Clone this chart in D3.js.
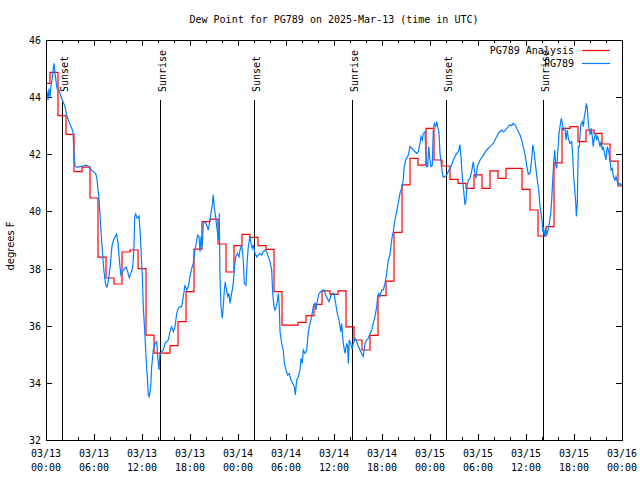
<!DOCTYPE html>
<html><head><meta charset="utf-8">
<script src="https://cdn.jsdelivr.net/npm/d3@7"></script>
<style>body{margin:0;background:#fff}svg{display:block}</style>
</head><body><svg id="c" width="640" height="480"></svg>
<script>
const chartTitle = "Dew Point for PG789 on 2025-Mar-13 (time in UTC)";
const yAxisLabel = "degrees F";
const startUTC = Date.UTC(2025, 2, 13, 0, 0);
const yTicks = [32, 34, 36, 38, 40, 42, 44, 46];
const seriesNames = ["PG789 Analysis", "PG789"];
const seriesColors = ["#ff0000", "#0080ff"];

// Analysis: hourly values (hours since 03/13 00:00 UTC)
const analysisHours = [0,1,2,3,4,5,6,7,8,9,10,11,12,13,14,15,16,17,18,19,20,21,22,23,24,
  25,26,27,28,29,30,31,32,33,34,35,36,37,38,39,40,41,42,43,44,45,46,47,48,
  49,50,51,52,53,54,55,56,57,58,59,60,61,62,63,64,65,66,67,68,69,70,71,72];
const analysisDew = [44.48,44.87,43.35,42.70,41.39,41.55,40.47,38.40,37.67,37.46,38.58,38.65,38.00,
  35.67,35.04,35.04,35.30,36.14,37.19,38.68,39.64,39.73,38.86,37.88,38.80,
  39.20,39.09,38.80,38.67,37.19,36.02,36.02,36.12,36.35,36.75,37.22,37.10,37.22,35.96,
  35.50,35.15,35.66,37.05,37.56,39.27,40.93,41.86,41.62,42.91,
  41.80,41.59,41.12,40.98,40.81,41.28,40.81,41.42,41.16,41.51,41.51,40.77,40.05,39.14,
  39.47,41.70,42.91,42.97,42.44,42.85,42.73,42.36,41.76,40.89];

// Observations: [hours since 03/13 00:00 UTC, dew point F]
const obsDay1 = [[0,43.84],[0.125,44.2],[0.25,43.9],[0.375,44.3],[0.5,44.0],[0.625,44.4],[0.75,44.6],[0.875,44.9],[1.0,45.18],[1.125,44.83],[1.375,44.31],[1.625,44.25],[1.875,44.02],[2.125,43.84],[2.375,43.67],[2.625,43.32],[2.875,43.14],[3.125,42.97],[3.375,42.79],[3.5,42.03],[3.625,41.59],[3.875,41.54],[4.25,41.57],[4.625,41.59],[5.0,41.62],[5.375,41.57],[5.625,41.47],[5.875,41.4],[6.125,41.35],[6.25,41.3],[6.375,41.1],[6.5,40.8],[6.625,40.4],[6.75,39.9],[6.875,39.3],[7.0,38.8],[7.125,38.3],[7.25,37.9],[7.375,37.6],[7.5,37.4],[7.625,37.35],[7.75,37.5],[8.0,38.0],[8.25,38.8],[8.44,39.0],[8.625,39.1],[8.84,39.2],[9.0,38.9],[9.125,38.47],[9.25,38.06],[9.375,37.77],[9.66,37.95],[10.0,38.06],[10.21,37.89],[10.41,37.68],[10.625,37.84],[10.84,38.06],[11.0,38.77],[11.09,39.82],[11.21,39.91],[11.41,39.76],[11.625,39.84],[11.75,39.35],[11.875,38.65],[12.04,37.72],[12.16,36.67],[12.375,35.62],[12.5,34.92],[12.66,34.22],[12.79,33.58],[12.91,33.52],[13.09,33.87],[13.21,34.57],[13.41,35.15],[13.625,35.38],[13.84,35.44],[13.96,34.92],[14.125,34.45],[14.25,35.03],[14.46,35.09],[14.66,35.15],[14.875,35.38],[15.09,35.44],[15.29,35.5],[15.5,35.79],[15.71,35.96],[15.91,35.79],[16.125,35.96],[16.34,36.43],[16.54,36.61],[16.75,36.67],[16.96,36.67],[17.16,37.02],[17.375,37.42],[17.59,37.25],[17.79,37.37],[18.0,37.72],[18.21,38.0],[18.41,38.18],[18.625,38.65],[18.84,39.0],[18.96,39.17],[19.125,39.12],[19.25,38.59],[19.375,39.12],[19.54,38.77],[19.66,39.58],[19.875,39.64],[20.09,39.52],[20.29,39.35],[20.5,39.7],[20.625,39.93],[20.79,40.23],[20.91,40.58],[21.04,40.11],[21.21,39.82],[21.34,39.47],[21.46,39.23],[21.59,39.0],[21.66,39.93],[21.75,37.72],[21.875,36.67],[22.04,36.26],[22.16,36.67],[22.29,37.25],[22.41,37.54],[22.59,37.19],[22.71,37.02],[22.875,37.13],[23.0,36.78],[23.21,37.13],[23.41,37.48],[23.54,38.0],[23.71,38.41],[23.91,38.53]];
const obsDay2 = [[24.125,38.41],[24.25,38.65],[24.46,38.82],[24.66,38.3],[24.79,37.48],[25.0,37.42],[25.16,38.3],[25.29,38.77],[25.5,39.12],[25.625,38.88],[25.79,38.71],[25.91,38.82],[26.125,38.53],[26.34,38.41],[26.54,38.47],[26.75,38.53],[26.96,38.47],[27.16,38.59],[27.375,38.65],[27.59,38.59],[27.79,38.41],[28.0,38.24],[28.21,37.95],[28.34,37.13],[28.5,36.67],[28.625,36.55],[28.84,36.72],[29.04,37.13],[29.16,36.67],[29.25,35.79],[29.46,35.38],[29.66,35.15],[29.79,34.68],[30.0,34.45],[30.21,34.27],[30.41,34.33],[30.625,34.1],[30.84,33.98],[31.04,33.87],[31.16,33.58],[31.34,34.1],[31.54,34.22],[31.75,34.45],[31.875,34.86],[32.04,34.68],[32.16,35.15],[32.375,35.03],[32.59,35.15],[32.79,35.79],[33.0,36.08],[33.21,36.32],[33.41,36.67],[33.625,36.78],[33.75,36.55],[33.91,36.84],[34.125,37.13],[34.34,37.19],[34.54,37.25],[34.75,37.25],[34.96,37.07],[35.16,36.96],[35.375,36.84],[35.59,37.02],[35.79,37.13],[36.0,37.13],[36.21,36.78],[36.41,36.43],[36.625,36.2],[36.84,35.79],[36.96,36.08],[37.16,35.38],[37.375,35.03],[37.59,35.38],[37.71,35.27],[37.79,34.68],[37.91,35.5],[38.09,35.38],[38.25,35.21],[38.41,35.38],[38.625,35.56],[38.84,35.44],[39.04,35.27],[39.25,35.15],[39.46,35.03],[39.66,34.92],[39.875,35.38],[40.09,35.5],[40.29,35.56],[40.5,35.73],[40.71,35.85],[40.91,36.08],[41.125,36.32],[41.34,36.67],[41.46,37.02],[41.625,37.13],[41.75,37.02],[41.96,37.25],[42.16,37.25],[42.375,37.48],[42.59,37.83],[42.79,38.3],[43.0,38.5],[43.21,39.0],[43.41,39.3],[43.625,39.7],[43.84,40.0],[44.04,40.3],[44.25,40.64],[44.46,40.81],[44.66,41.1],[44.75,41.51],[44.96,41.8],[45.29,41.97],[45.5,42.27],[45.71,42.21],[45.91,42.15],[46.125,42.09],[46.34,42.03],[46.54,42.09],[46.75,42.38],[46.875,42.62],[47.04,42.5],[47.16,42.73],[47.375,42.79],[47.5,41.92],[47.59,41.57],[47.71,41.57],[47.84,42.27],[48.0,41.8]];
const obsDay3 = [[48.125,41.57],[48.29,41.62],[48.41,42.85],[48.54,43.08],[48.71,42.97],[48.84,43.14],[48.96,42.97],[49.125,42.73],[49.25,42.03],[49.375,41.74],[49.54,41.33],[49.66,41.19],[49.875,41.22],[50.09,41.28],[50.29,41.4],[50.5,41.51],[50.71,41.62],[50.91,41.8],[51.125,41.92],[51.34,42.03],[51.54,42.09],[51.75,42.33],[51.875,41.92],[52.0,41.33],[52.16,40.87],[52.375,40.23],[52.5,40.4],[52.625,40.87],[52.79,41.1],[53.0,41.16],[53.21,41.4],[53.41,41.74],[53.54,41.45],[53.75,41.16],[53.91,41.57],[54.16,41.74],[54.375,41.86],[54.59,41.92],[54.79,42.03],[55.09,42.15],[55.29,42.21],[55.5,42.27],[55.71,42.33],[55.91,42.38],[56.125,42.5],[56.34,42.62],[56.54,42.73],[56.75,42.79],[56.96,42.85],[57.16,42.79],[57.375,42.82],[57.59,42.91],[57.79,42.97],[58.0,43.03],[58.21,43.0],[58.41,43.08],[58.625,43.03],[58.84,42.91],[59.04,42.79],[59.25,42.68],[59.46,42.5],[59.66,42.27],[59.875,42.0],[60.09,41.6],[60.29,41.3],[60.5,41.35],[60.71,41.8],[60.84,42.33],[60.91,42.27],[61.04,42.0],[61.21,41.57],[61.41,41.1],[61.625,40.64],[61.75,40.17],[61.875,39.93],[62.0,39.7],[62.09,39.29],[62.16,39.47],[62.29,39.12],[62.46,39.41],[62.59,39.17],[62.75,39.35],[62.91,39.58],[63.09,39.93],[63.21,40.4],[63.34,41.1],[63.46,41.69],[63.59,42.15],[63.71,41.62],[63.84,41.51],[63.96,42.03],[64.125,42.73],[64.25,42.97],[64.41,43.26],[64.54,43.08],[64.66,42.85],[64.875,42.91],[65.0,42.5],[65.16,42.85],[65.29,42.56],[65.5,42.38],[65.71,42.44],[65.84,41.92],[65.96,41.22],[66.09,40.75],[66.21,40.34],[66.29,39.82],[66.41,40.28],[66.54,42.27],[66.66,42.27],[66.84,43.03],[67.04,43.14],[67.16,42.97],[67.29,43.32],[67.41,43.49],[67.54,43.78],[67.66,43.61],[67.79,43.08],[67.91,42.85],[68.04,42.68],[68.16,42.91],[68.29,42.62],[68.41,42.27],[68.54,42.56],[68.71,42.73],[68.84,42.5],[68.96,42.62],[69.125,42.44],[69.25,42.27],[69.375,42.44],[69.54,42.15],[69.66,42.27],[69.875,41.97],[70.0,41.8],[70.16,42.27],[70.34,42.09],[70.5,41.8],[70.625,41.45],[70.79,41.51],[70.91,41.22],[71.125,41.1],[71.25,41.22],[71.41,41.04],[71.59,40.93],[71.75,40.98],[71.875,40.93],[72.0,40.93]];

// Sun events (hours since start) and labels
const sunHours = [2.0, 14.25, 26.0, 38.23, 50.02, 62.17];
const sunLabels = ["Sunset", "Sunrise", "Sunset", "Sunrise", "Sunset", "Sunrise"];
const sunLineTopValue = 43.9;

const HOUR = 3600 * 1000;
const t = h => new Date(startUTC + h * HOUR);

const svg = d3.select("#c");
const M = {left: 46, right: 622, top: 40, bottom: 440};
const x = d3.scaleUtc().domain([t(0), t(72)]).range([M.left, M.right]);
const y = d3.scaleLinear().domain([32, 46]).range([M.bottom, M.top]);
const mono = "'DejaVu Sans Mono', monospace";

svg.append("rect").attr("width", 640).attr("height", 480).attr("fill", "#fff");

// Title
svg.append("text").attr("x", (M.left + M.right) / 2).attr("y", 23)
  .attr("text-anchor", "middle").attr("font-family", mono).attr("font-size", 10)
  .text(chartTitle);

// y axis label
svg.append("text").attr("transform", "translate(14,246) rotate(-90)")
  .attr("text-anchor", "middle").attr("font-family", "'DejaVu Sans', sans-serif").attr("font-size", 10)
  .text(yAxisLabel);

const minorTimes = d3.utcHour.every(2).range(t(0), t(72.01));
const majorTimes = d3.utcHour.every(6).range(t(0), t(72.01));

// Tick marks via axes (inward)
function tickAxis(gen, tr, vals, size) {
  const g = svg.append("g").attr("transform", tr)
    .call(gen.tickValues(vals).tickSizeInner(size).tickSizeOuter(0).tickFormat(""));
  g.select(".domain").remove();
  g.selectAll("line").attr("stroke", "#000").attr("shape-rendering", "crispEdges");
}
tickAxis(d3.axisBottom(x), `translate(0,${M.bottom})`, minorTimes, -3);
tickAxis(d3.axisBottom(x), `translate(0,${M.bottom})`, majorTimes, -6);
tickAxis(d3.axisTop(x), `translate(0,${M.top})`, minorTimes, -3);
tickAxis(d3.axisTop(x), `translate(0,${M.top})`, majorTimes, -6);
tickAxis(d3.axisLeft(y), `translate(${M.left},0)`, yTicks, -6);
tickAxis(d3.axisRight(y), `translate(${M.right},0)`, yTicks, -6);

// X labels
const fmtD = d3.utcFormat("%m/%d"), fmtT = d3.utcFormat("%H:%M");
const xl = svg.append("g").attr("font-family", mono).attr("font-size", 10).attr("text-anchor", "middle");
majorTimes.forEach(d => {
  xl.append("text").attr("x", x(d)).attr("y", 457).text(fmtD(d));
  xl.append("text").attr("x", x(d)).attr("y", 471).text(fmtT(d));
});
// Y labels
const yl = svg.append("g").attr("font-family", mono).attr("font-size", 10).attr("text-anchor", "end");
yTicks.forEach(v => yl.append("text").attr("x", 41).attr("y", y(v) + 4).text(v));

// Clip
svg.append("clipPath").attr("id", "clip").append("rect")
  .attr("x", M.left).attr("y", M.top).attr("width", M.right - M.left).attr("height", M.bottom - M.top);

// Sun lines + labels
const sg = svg.append("g");
sunHours.forEach((h, i) => {
  const sx = Math.round(x(t(h))) + 0.5;
  sg.append("line").attr("x1", sx).attr("x2", sx).attr("y1", y(sunLineTopValue)).attr("y2", M.bottom)
    .attr("stroke", "#000").attr("stroke-width", 1);
  sg.append("text").attr("transform", `translate(${sx + 5},92) rotate(-90)`)
    .attr("font-family", mono).attr("font-size", 10).text(sunLabels[i]);
});

// Data lines
const plot = svg.append("g").attr("clip-path", "url(#clip)");
const anaData = analysisHours.map((h, i) => ({time: t(h), v: analysisDew[i]}));
plot.append("path").datum(anaData)
  .attr("d", d3.line().x(d => x(d.time)).y(d => y(d.v)).curve(d3.curveStep))
  .attr("fill", "none").attr("stroke", seriesColors[0]).attr("stroke-width", 1.2);
const obsData = obsDay1.concat(obsDay2, obsDay3).map(p => ({time: t(p[0]), v: p[1]}));
plot.append("path").datum(obsData)
  .attr("d", d3.line().x(d => x(d.time)).y(d => y(d.v)))
  .attr("fill", "none").attr("stroke", seriesColors[1]).attr("stroke-width", 1.2);

// Frame
svg.append("rect").attr("x", M.left + 0.5).attr("y", M.top + 0.5)
  .attr("width", M.right - M.left).attr("height", M.bottom - M.top)
  .attr("fill", "none").attr("stroke", "#000").attr("stroke-width", 1);

// Legend
const lg = svg.append("g").attr("font-family", mono).attr("font-size", 10);
seriesNames.forEach((n, i) => {
  const ly = 50 + i * 13;
  lg.append("text").attr("x", 574).attr("y", ly + 3.5).attr("text-anchor", "end").text(n);
  lg.append("line").attr("x1", 582).attr("x2", 610).attr("y1", ly + 0.5).attr("y2", ly + 0.5)
    .attr("stroke", seriesColors[i]).attr("stroke-width", 1.2);
});
</script>
</body></html>
